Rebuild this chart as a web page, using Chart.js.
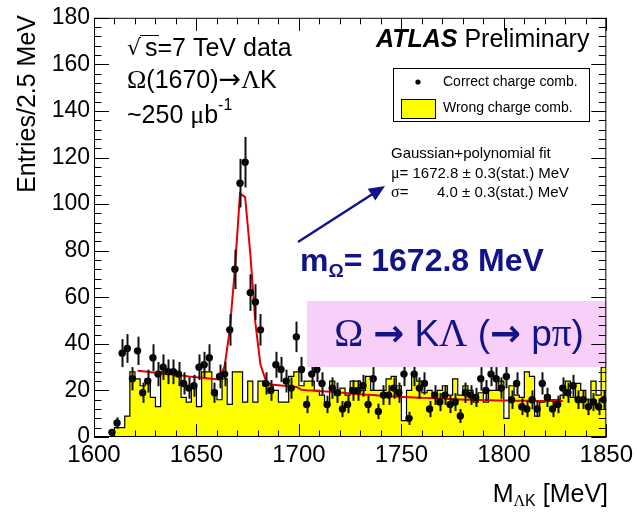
<!DOCTYPE html>
<html><head><meta charset="utf-8">
<script src="https://cdn.jsdelivr.net/npm/chart.js@4.4.0/dist/chart.umd.min.js"></script>
<style>html,body{margin:0;padding:0;background:#fff;}#wrap{width:637px;height:512px;}</style>
</head><body><div id="wrap"><canvas id="c" width="637" height="512"></canvas></div>
<script>
// ---- data ----
const binLow = 1600, binWidth = 2.5, nBins = 100;
const xTicks = [1600, 1650, 1700, 1750, 1800, 1850];
const yTicks = [0, 20, 40, 60, 80, 100, 120, 140, 160, 180];
// wrong charge combinations (yellow histogram), one value per 2.5 MeV bin from 1600
const wrongCharge = [
 0,0,0,0,4,4,9,28,25,22, 25,17,13,28,27,27,26,17,15,22,
 13,28,28,20,16,25,14,28,28,15, 24,15,24,22,22,20,15,15,26,28,
 22,24,24,20,18,15,24,18,21,18, 24,24,20,26,20,20,20,25,26,22,
 7,20,26,24,19,20,18,20,22,18, 25,18,22,20,15,19,15,20,20,24,
 8,22,18,17,28,26,9,15,18,16, 16,18,24,17,23,20,16,24,18,30
];
// correct charge combinations (points), null = no entry drawn
const correctCharge = [
 null,null,null,2,6,36,38,25,37,19, 24,34,27,30,28,28,27,23,21,22,
 30,31,34,19,26,27,46,72,109,118, 62,58,46,23,20,31,29,24,21,43,
 29,14,27,29,23,14,21,19,12,14, 20,20,22,14,25,11,18,18,21,19,
 27,8,27,21,23,12,18,15,18,14, 15,9,19,18,17,25,20,27,25,21,
 26,16,23,13,12,16,12,23,17,12, 14,21,19,22,16,16,13,15,13,16
];
// Gaussian + polynomial fit, read at bin centres, starting at bin 8
const fitStartBin = 8;
const fitCurve = [
 28.4,28.2,28.0,27.7,27.5,27.2,27.0,26.8,26.5,26.3,26.0,25.8,25.6,25.3,25.1,24.9,24.7,
 30.5,46,72,104.5,103,79,49,31,24.5,
 22.5,22.3,22.1,21.9,21.7,21.5,20.3,20.1,20.0,19.8,19.6,19.5,19.3,19.1,19.0,18.8,18.6,18.4,18.2,
 18.1,18.0,17.8,17.7,17.6,17.4,17.3,17.2,17.1,17.0,16.9,16.8,16.7,16.6,16.5,16.4,16.3,
 16.2,16.1,16.0,15.95,15.9,15.85,15.8,15.75,15.7,15.7,15.65,15.6,15.6,15.55,15.55,15.5,15.5,15.5,15.5,15.5,15.5,15.5
];

// ---- build library tables ----
const edge = i => binLow + binWidth * i;
const centre = i => binLow + binWidth * (i + 0.5);
const histPts = wrongCharge.map((v, i) => ({x: edge(i), y: v}));
histPts.push({x: edge(nBins), y: wrongCharge[nBins - 1]});
const dataPts = [];
correctCharge.forEach((v, i) => { if (v !== null) dataPts.push({x: centre(i), y: v}); });
const fitPts = fitCurve.map((v, k) => ({x: centre(fitStartBin + k), y: v}));

const SANS = '"Liberation Sans", Arial, Helvetica, sans-serif';
const SERIF = '"Liberation Serif", "Times New Roman", serif';
const DJ = '"DejaVu Sans", sans-serif';
const NAVY = '#10138a';

// draw a run of text pieces; each piece {t, size, fam, style, dy}
function runs(ctx, x, y, pieces, color, align) {
  ctx.save();
  ctx.textBaseline = 'middle';
  ctx.textAlign = 'left';
  ctx.fillStyle = color || '#000';
  let total = 0;
  const ws = pieces.map(p => {
    ctx.font = (p.style || '') + ' ' + p.size + 'px ' + (p.fam || SANS);
    const w = ctx.measureText(p.t).width; total += w; return w;
  });
  let cx = x;
  if (align === 'right') cx = x - total;
  if (align === 'center') cx = x - total / 2;
  pieces.forEach((p, k) => {
    ctx.font = (p.style || '') + ' ' + p.size + 'px ' + (p.fam || SANS);
    ctx.fillText(p.t, cx, y + (p.dy || 0));
    cx += ws[k];
  });
  ctx.restore();
  return total;
}

const decor = {
  id: 'decor',
  afterDatasetsDraw(chart) {
    const ctx = chart.ctx, xs = chart.scales.x, ys = chart.scales.y, a = chart.chartArea;
    // error bars
    ctx.save();
    ctx.strokeStyle = '#111';
    ctx.lineWidth = 2;
    dataPts.forEach(p => {
      const e = Math.sqrt(p.y);
      const px = Math.round(xs.getPixelForValue(p.x)) + 0.5;
      ctx.beginPath();
      ctx.moveTo(px, ys.getPixelForValue(p.y + e));
      ctx.lineTo(px, Math.min(ys.getPixelForValue(Math.max(p.y - e, 0)), a.bottom));
      ctx.stroke();
    });
    ctx.restore();
    // pink box
    ctx.save();
    ctx.fillStyle = '#f8cff8';
    ctx.fillRect(307, 301, a.right - 307, 66);
    ctx.restore();
    runs(ctx, 459, 336, [
      {t: 'Ω', size: 39, fam: SERIF}, {t: ' ', size: 36}, {t: '→', size: 37, fam: DJ, style: 'bold'},
      {t: ' K', size: 37}, {t: 'Λ', size: 39, fam: SERIF}, {t: ' (', size: 37},
      {t: '→', size: 37, fam: DJ, style: 'bold'}, {t: ' p', size: 37}, {t: 'π', size: 39, fam: SERIF},
      {t: ')', size: 37}
    ], NAVY, 'center');
  },
  afterDraw(chart) {
    const ctx = chart.ctx, xs = chart.scales.x, ys = chart.scales.y, a = chart.chartArea;
    ctx.save();
    // frame
    ctx.strokeStyle = '#000';
    ctx.lineWidth = 1;
    ctx.strokeRect(a.left + 0.5, a.top + 0.5, a.right - a.left - 1, a.bottom - a.top - 1);
    // ticks inside the frame, on all four sides
    for (let m = 1600; m <= 1850; m += 10) {
      const px = Math.round(xs.getPixelForValue(m)) + 0.5;
      const L = (m % 50 === 0) ? 13 : 6.5;
      ctx.beginPath();
      ctx.moveTo(px, a.bottom); ctx.lineTo(px, a.bottom - L);
      ctx.moveTo(px, a.top); ctx.lineTo(px, a.top + L);
      ctx.stroke();
    }
    for (let v = 0; v <= 180; v += 4) {
      const py = Math.round(ys.getPixelForValue(v)) + 0.5;
      const L = (v % 20 === 0) ? 15 : 7.5;
      ctx.beginPath();
      ctx.moveTo(a.left, py); ctx.lineTo(a.left + L, py);
      ctx.moveTo(a.right, py); ctx.lineTo(a.right - L, py);
      ctx.stroke();
    }
    ctx.restore();
    // axis titles
    ctx.save();
    ctx.translate(28, 15);
    ctx.rotate(-Math.PI / 2);
    runs(ctx, 0, 0, [{t: 'Entries/2.5 MeV', size: 25}], '#000', 'right');
    ctx.restore();
    runs(ctx, 608, 495, [
      {t: 'M', size: 25}, {t: 'Λ', size: 16, fam: SERIF, dy: 7}, {t: 'K', size: 16, dy: 7},
      {t: ' [MeV]', size: 25}
    ], '#000', 'right');
    // labels top left
    runs(ctx, 127, 49, [{t: '√', size: 22, fam: DJ}], '#000');
    runs(ctx, 145, 49, [{t: 's=7 TeV data', size: 25}], '#000');
    ctx.save(); ctx.strokeStyle = '#000'; ctx.lineWidth = 1;
    ctx.beginPath(); ctx.moveTo(140, 35.5); ctx.lineTo(159, 35.5); ctx.stroke(); ctx.restore();
    runs(ctx, 127, 81, [
      {t: 'Ω', size: 26, fam: SERIF}, {t: '(1670)', size: 25}, {t: '→', size: 27, fam: DJ},
      {t: 'Λ', size: 26, fam: SERIF}, {t: 'K', size: 25}
    ], '#000');
    runs(ctx, 127, 116, [
      {t: '~250 ', size: 25}, {t: 'μ', size: 26, fam: SERIF}, {t: 'b', size: 25},
      {t: '-1', size: 16, dy: -10}
    ], '#000');
    // ATLAS Preliminary
    runs(ctx, 376, 40, [
      {t: 'ATLAS', size: 25, style: 'italic bold'}, {t: ' Preliminary', size: 25}
    ], '#000');
    // legend
    ctx.save();
    ctx.strokeStyle = '#000'; ctx.lineWidth = 1;
    ctx.fillStyle = '#fff';
    ctx.fillRect(393.5, 68.5, 196, 53);
    ctx.strokeRect(393.5, 68.5, 196, 53);
    ctx.fillStyle = '#000';
    ctx.beginPath(); ctx.arc(418, 82, 2.6, 0, Math.PI * 2); ctx.fill();
    ctx.fillStyle = '#ffff00';
    ctx.fillRect(401, 99, 34, 19);
    ctx.strokeRect(401.5, 99.5, 34, 19);
    ctx.restore();
    runs(ctx, 443, 82, [{t: 'Correct charge comb.', size: 14}], '#000');
    runs(ctx, 443, 108, [{t: 'Wrong charge comb.', size: 14}], '#000');
    // fit text
    runs(ctx, 391, 154, [{t: 'Gaussian+polynomial fit', size: 15}], '#000');
    runs(ctx, 391, 174, [{t: 'μ', size: 16, fam: SERIF}, {t: '= 1672.8 ± 0.3(stat.) MeV', size: 15}], '#000');
    runs(ctx, 391, 193, [{t: 'σ', size: 16, fam: SERIF}, {t: '=', size: 15}], '#000');
    runs(ctx, 437, 193, [{t: '4.0 ± 0.3(stat.) MeV', size: 15}], '#000');
    // arrow
    ctx.save();
    ctx.strokeStyle = NAVY; ctx.fillStyle = NAVY; ctx.lineWidth = 2.5;
    const ax0 = 298, ay0 = 242, ax1 = 385, ay1 = 186;
    const ang = Math.atan2(ay1 - ay0, ax1 - ax0);
    ctx.beginPath(); ctx.moveTo(ax0, ay0);
    ctx.lineTo(ax1 - 12 * Math.cos(ang), ay1 - 12 * Math.sin(ang)); ctx.stroke();
    ctx.beginPath();
    ctx.moveTo(ax1, ay1);
    ctx.lineTo(ax1 - 16 * Math.cos(ang) + 7 * Math.sin(ang), ay1 - 16 * Math.sin(ang) - 7 * Math.cos(ang));
    ctx.lineTo(ax1 - 16 * Math.cos(ang) - 7 * Math.sin(ang), ay1 - 16 * Math.sin(ang) + 7 * Math.cos(ang));
    ctx.closePath(); ctx.fill();
    ctx.restore();
    // m_Omega label
    runs(ctx, 300, 262, [
      {t: 'm', size: 32, style: 'bold'}, {t: 'Ω', size: 19, style: 'bold', dy: 10},
      {t: '= 1672.8 MeV', size: 32, style: 'bold'}
    ], NAVY);
  }
};

new Chart(document.getElementById('c'), {
  type: 'line',
  data: {
    datasets: [
      {label: 'Correct charge comb.', data: dataPts, showLine: false, pointRadius: 3.7,
       pointBackgroundColor: '#000', pointBorderColor: '#000', pointBorderWidth: 0, order: 0},
      {label: 'fit', data: fitPts, borderColor: '#e30000', borderWidth: 2, pointRadius: 0,
       tension: 0, fill: false, order: 1},
      {label: 'Wrong charge comb.', data: histPts, stepped: 'before', fill: 'origin',
       backgroundColor: '#ffff00', borderColor: '#000', borderWidth: 1.2, pointRadius: 0, order: 2}
    ]
  },
  options: {
    responsive: false, animation: false, devicePixelRatio: 1,
    layout: {padding: {left: 0, right: 28, top: 15, bottom: 0}},
    plugins: {legend: {display: false}, tooltip: {enabled: false}},
    scales: {
      x: {type: 'linear', min: 1600, max: 1850,
          afterBuildTicks: s => { s.ticks = xTicks.map(v => ({value: v})); },
          afterFit: s => { s.height = 75; },
          grid: {display: false, drawTicks: false}, border: {display: false},
          ticks: {padding: 4, color: '#000', font: {family: SANS, size: 24}, maxRotation: 0,
                  callback: v => String(v)}},
      y: {min: 0, max: 180,
          afterBuildTicks: s => { s.ticks = yTicks.map(v => ({value: v})); },
          afterFit: s => { s.width = 94; },
          grid: {display: false, drawTicks: false}, border: {display: false},
          ticks: {padding: 4, color: '#000', font: {family: SANS, size: 23},
                  callback: v => String(v)}}
    }
  },
  plugins: [decor]
});
</script>
</body></html>
